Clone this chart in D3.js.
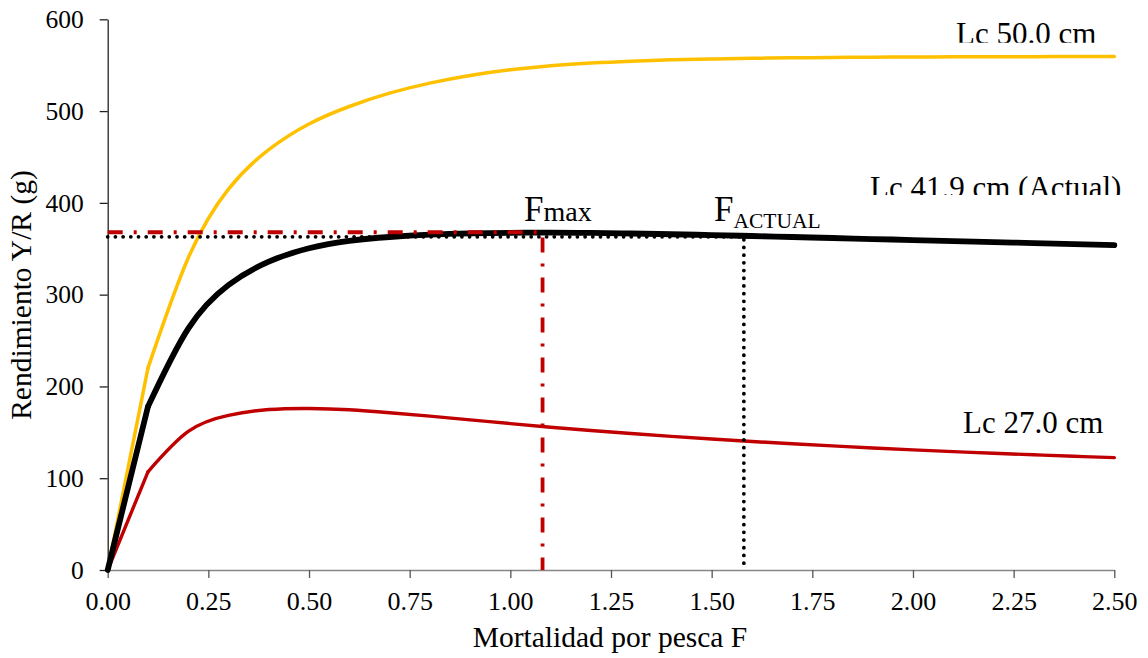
<!DOCTYPE html>
<html>
<head>
<meta charset="utf-8">
<script src="https://cdn.jsdelivr.net/npm/d3@7"></script>
<style>
  html, body { margin: 0; padding: 0; background: #fff; }
  svg { display: block; }
  svg text { font-family: "Liberation Serif", "Times New Roman", serif; fill: #000; }
</style>
</head>
<body>
<svg id="chart" width="1148" height="658"></svg>
<script>
// Fishing mortality values (x)
const fMort = [0, 0.1, 0.2, 0.3, 0.4, 0.5, 0.6, 0.7, 0.8, 0.9, 1.0, 1.1, 1.2, 1.3,
               1.4, 1.5, 1.6, 1.7, 1.8, 1.9, 2.0, 2.1, 2.2, 2.3, 2.4, 2.5];

// Yield per recruit (g) for each size at first capture
const yrLc50 = [0, 220, 340, 415, 458, 486, 505, 519.5, 530.5, 538.8, 545, 549.4, 552.4, 554.4,
                555.8, 556.8, 557.5, 558, 558.4, 558.7, 558.9, 559.1, 559.2, 559.3, 559.4, 559.5];
const yrLc419 = [0, 178, 263, 310.5, 336, 350.5, 358.5, 362.8, 365.3, 366.7, 367.4, 367.5, 367.2, 366.6,
                 365.8, 364.9, 363.9, 362.8, 361.7, 360.6, 359.5, 358.4, 357.3, 356.2, 355.1, 354];
const yrLc27 = [0, 107, 151, 168.5, 174.8, 176, 174.6, 171.4, 167.6, 163.6, 159.5, 155.6, 152, 148.7,
                145.6, 142.7, 140, 137.5, 135.2, 133, 130.9, 129, 127.2, 125.5, 123.9, 122.4];

// Reference points
const fMax = 1.08, yrMax = 368;
const fActual = 1.58, yrActual = 363;

// Axis ticks
const xTicks = [0, 0.25, 0.5, 0.75, 1.0, 1.25, 1.5, 1.75, 2.0, 2.25, 2.5];
const xTickLabels = ["0.00", "0.25", "0.50", "0.75", "1.00", "1.25", "1.50", "1.75", "2.00", "2.25", "2.50"];
const yTicks = [0, 100, 200, 300, 400, 500, 600];

const svg = d3.select("#chart");
const x = d3.scaleLinear().domain([0, 2.5]).range([107.7, 1114.3]);
const y = d3.scaleLinear().domain([0, 600]).range([570, 19.3]);

// Axes
const gx = svg.append("g").attr("transform", `translate(0,${y(0)})`)
  .call(d3.axisBottom(x).tickValues(xTicks).tickFormat((d, i) => xTickLabels[i])
    .tickSize(8).tickSizeOuter(0).tickPadding(14));
gx.attr("font-family", null).attr("font-size", null);
gx.select(".domain").attr("stroke", "#868686").attr("stroke-width", 1.6);
gx.selectAll(".tick line").attr("stroke", "#555").attr("stroke-width", 1.3);
gx.selectAll(".tick text").style("font-size", "26px");

const gy = svg.append("g").attr("transform", `translate(${x(0)},0)`)
  .call(d3.axisLeft(y).tickValues(yTicks).tickFormat(d3.format("d"))
    .tickSize(8).tickSizeOuter(0).tickPadding(16));
gy.attr("font-family", null).attr("font-size", null);
gy.select(".domain").attr("stroke", "#222").attr("stroke-width", 1.3);
gy.selectAll(".tick line").attr("stroke", "#222").attr("stroke-width", 1.3);
gy.selectAll(".tick text").style("font-size", "25.5px");

// Axis titles
svg.append("text").attr("x", 610).attr("y", 647).attr("text-anchor", "middle")
  .style("font-size", "29.5px").text("Mortalidad por pesca F");
svg.append("text").attr("transform", "translate(31,295) rotate(-90)")
  .attr("text-anchor", "middle").style("font-size", "29.5px").text("Rendimiento Y/R (g)");

// Curves: straight first segment, smooth afterwards
const smooth = d3.line().x(d => x(d[0])).y(d => y(d[1])).curve(d3.curveNatural);
const straight = d3.line().x(d => x(d[0])).y(d => y(d[1]));
function drawCurve(vals, color, width) {
  const pts = fMort.map((f, i) => [f, vals[i]]);
  const g = svg.append("g").attr("fill", "none").attr("stroke", color)
    .attr("stroke-width", width).attr("stroke-linejoin", "round").attr("stroke-linecap", "round");
  g.append("path").attr("d", straight(pts.slice(0, 2)));
  g.append("path").attr("d", smooth(pts.slice(1)));
}
drawCurve(yrLc50, "#FFC000", 3.5);
drawCurve(yrLc27, "#C00000", 3.4);
drawCurve(yrLc419, "#000000", 5.8);

// Reference lines
svg.append("path")
  .attr("d", `M${x(0)},${y(yrMax)}H${x(fMax)}V${y(0)}`)
  .attr("fill", "none").attr("stroke", "#C00000").attr("stroke-width", 3.8)
  .attr("stroke-dasharray", "15,11,3,11");
svg.append("path")
  .attr("d", `M${x(0)},${y(yrActual)}H${x(fActual)}V${y(0) - 6}`)
  .attr("fill", "none").attr("stroke", "#000").attr("stroke-width", 3.8)
  .attr("stroke-linecap", "round").attr("stroke-dasharray", "0,7.7");

// Labels
svg.append("text").attr("x", 524).attr("y", 221).style("font-size", "35px")
  .text("F").append("tspan").style("font-size", "28px").text("max");
svg.append("text").attr("x", 714).attr("y", 221).style("font-size", "35px")
  .text("F").append("tspan").style("font-size", "21.5px").attr("dy", 7).text("ACTUAL");

const defs = svg.append("defs");
defs.append("clipPath").attr("id", "clip50").append("rect")
  .attr("x", 0).attr("y", 0).attr("width", 1148).attr("height", 42.7);
defs.append("clipPath").attr("id", "clip419").append("rect")
  .attr("x", 0).attr("y", 150).attr("width", 1148).attr("height", 45);

svg.append("text").attr("x", 956).attr("y", 44).style("font-size", "31px")
  .attr("clip-path", "url(#clip50)").text("Lc 50.0 cm");
svg.append("text").attr("x", 870).attr("y", 197.5).style("font-size", "31px")
  .attr("clip-path", "url(#clip419)").text("Lc 41.9 cm (Actual)");
svg.append("text").attr("x", 963).attr("y", 433).style("font-size", "31px")
  .text("Lc 27.0 cm");
</script>
</body>
</html>
